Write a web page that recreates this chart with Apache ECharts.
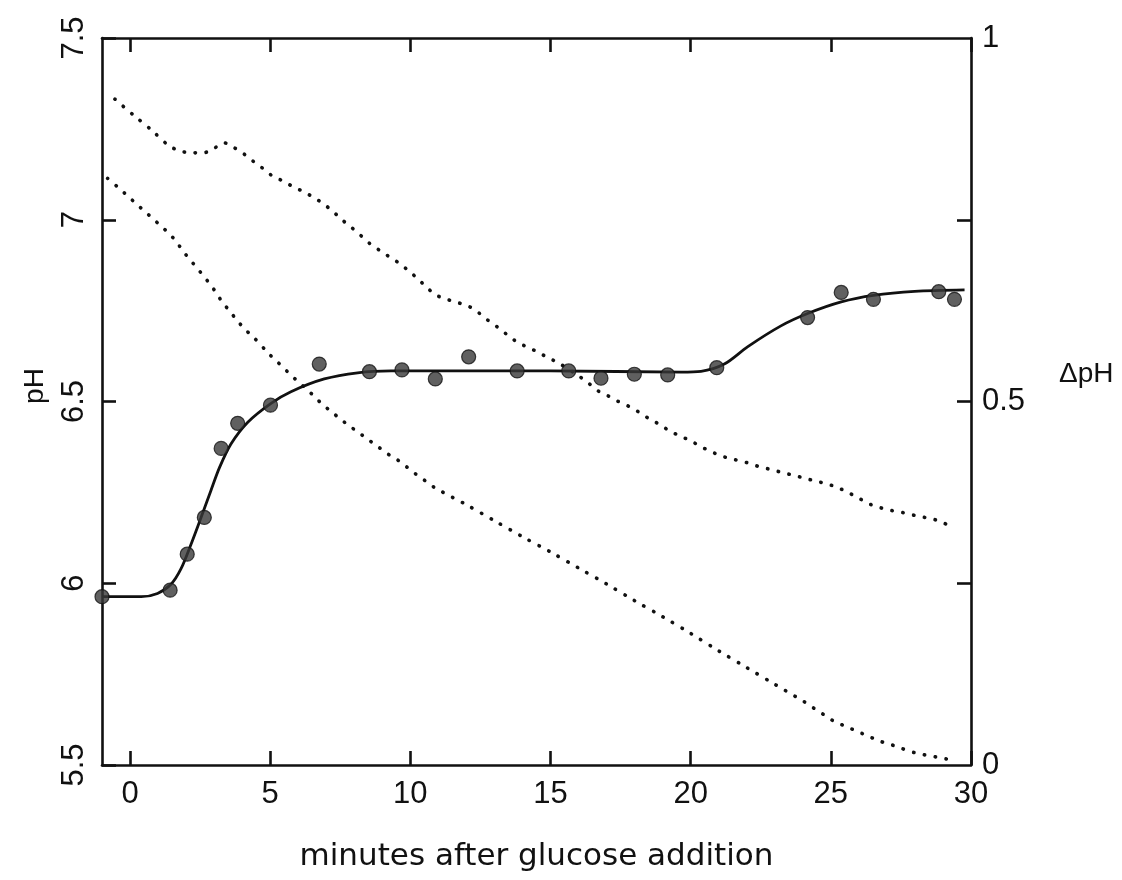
<!DOCTYPE html>
<html>
<head>
<meta charset="utf-8">
<script src="https://cdn.jsdelivr.net/npm/echarts@6/dist/echarts.min.js"></script>
<style>
  html, body { margin: 0; padding: 0; background: #fff; }
  #chart { width: 1122px; height: 880px; }
</style>
</head>
<body>
<div id="chart"></div>
<script>
// Measured pH values (filled circles)
const scatterMinutes = [-1.0, 1.43, 2.04, 2.65, 3.25, 3.84, 5.01, 6.75, 8.54, 9.70, 10.89, 12.08, 13.81, 15.65, 16.80, 17.99, 19.18, 20.93, 24.17, 25.37, 26.52, 28.85, 29.41];
const scatterPH = [5.963, 5.981, 6.080, 6.181, 6.371, 6.440, 6.490, 6.603, 6.582, 6.587, 6.562, 6.623, 6.584, 6.584, 6.564, 6.575, 6.573, 6.593, 6.731, 6.800, 6.781, 6.802, 6.781];

// Fitted pH curve (solid line)
const fitMinutes = [-1.0, 0.4, 0.98, 1.46, 1.82, 2.18, 2.53, 2.89, 3.19, 3.60, 4.20, 5.03, 5.74, 6.93, 8.12, 9.31, 15.0, 19.66, 20.37, 21.20, 22.04, 23.22, 24.17, 25.37, 26.52, 27.99, 29.77];
const fitPH = [5.963, 5.963, 5.972, 5.997, 6.040, 6.108, 6.180, 6.256, 6.318, 6.383, 6.443, 6.495, 6.527, 6.562, 6.579, 6.584, 6.584, 6.581, 6.583, 6.603, 6.651, 6.708, 6.742, 6.774, 6.792, 6.803, 6.807];

// Upper dotted ΔpH trace
const upperMinutes = [-0.54, 0.12, 0.75, 1.38, 1.76, 2.18, 2.61, 2.99, 3.34, 3.72, 4.08, 4.41, 4.76, 5.09, 5.47, 5.84, 6.22, 6.58, 6.93, 7.25, 7.56, 7.91, 8.24, 8.56, 8.90, 9.25, 9.61, 9.93, 10.26, 10.56, 10.89, 11.27, 11.69, 12.08, 12.44, 12.76, 13.12, 13.45, 13.80, 14.16, 14.55, 14.92, 15.29, 15.97, 16.33, 16.68, 17.04, 17.42, 17.81, 18.17, 18.53, 18.91, 19.27, 19.66, 20.04, 20.41, 20.79, 21.18, 21.58, 22.00, 22.39, 22.80, 23.20, 23.61, 24.02, 24.41, 24.83, 25.22, 25.61, 26.00, 26.38, 26.76, 27.17, 27.59, 28.02, 28.42, 28.84, 29.23];
const upperDelta = [0.916, 0.894, 0.874, 0.852, 0.845, 0.842, 0.842, 0.848, 0.856, 0.849, 0.840, 0.830, 0.820, 0.810, 0.803, 0.795, 0.788, 0.780, 0.771, 0.761, 0.750, 0.739, 0.728, 0.717, 0.708, 0.699, 0.690, 0.680, 0.669, 0.658, 0.647, 0.641, 0.636, 0.631, 0.622, 0.612, 0.602, 0.592, 0.582, 0.575, 0.568, 0.560, 0.553, 0.536, 0.526, 0.515, 0.508, 0.500, 0.493, 0.485, 0.476, 0.468, 0.459, 0.452, 0.445, 0.437, 0.430, 0.424, 0.420, 0.416, 0.411, 0.407, 0.403, 0.399, 0.395, 0.391, 0.387, 0.382, 0.375, 0.367, 0.359, 0.354, 0.350, 0.347, 0.343, 0.340, 0.336, 0.329];

// Lower dotted ΔpH trace
const lowerMinutes = [-0.80, -0.44, -0.12, 0.19, 0.51, 0.83, 1.14, 1.45, 1.72, 1.97, 2.25, 2.51, 2.78, 3.03, 3.27, 3.54, 3.79, 4.08, 4.39, 4.97, 5.27, 5.59, 5.89, 6.18, 6.52, 6.81, 7.15, 7.47, 7.80, 8.13, 8.48, 8.84, 9.19, 9.53, 9.87, 10.20, 10.53, 10.89, 12.0, 13.0, 14.0, 15.0, 16.0, 17.0, 18.0, 19.0, 20.0, 21.0, 22.0, 23.0, 24.05, 24.40, 24.76, 25.12, 25.54, 25.96, 26.32, 26.73, 27.15, 27.51, 27.98, 28.34, 28.76, 29.17];
const lowerDelta = [0.807, 0.795, 0.784, 0.773, 0.762, 0.751, 0.740, 0.729, 0.716, 0.703, 0.690, 0.678, 0.665, 0.652, 0.638, 0.625, 0.613, 0.600, 0.589, 0.565, 0.554, 0.542, 0.531, 0.521, 0.509, 0.498, 0.487, 0.477, 0.467, 0.458, 0.448, 0.438, 0.428, 0.420, 0.410, 0.400, 0.391, 0.381, 0.358, 0.336, 0.314, 0.293, 0.271, 0.249, 0.226, 0.204, 0.181, 0.157, 0.134, 0.111, 0.087, 0.078, 0.069, 0.060, 0.053, 0.046, 0.040, 0.033, 0.028, 0.023, 0.017, 0.014, 0.011, 0.008];

// Axis ticks and labels
const xTickValues = [0, 5, 10, 15, 20, 25, 30];
const phTickValues = [5.5, 6, 6.5, 7, 7.5];
const deltaTickValues = [0.25, 0.5, 0.75];
const deltaLabelValues = [0, 0.5, 1];

const zip = (xs, ys) => xs.map((x, i) => [x, ys[i]]);

const FONT = 'Liberation Sans';
const NAME_FONT = 'DejaVu Sans';
const INK = '#111';
const frameLine = { show: true, onZero: false, lineStyle: { color: INK, width: 2.6 } };
const tickStyle = { color: INK, width: 2.6 };
const dotted = { color: INK, width: 3.6, type: [0.4, 10.6], cap: 'round' };

const chart = echarts.init(document.getElementById('chart'), null, { renderer: 'canvas' });

chart.setOption({
  backgroundColor: '#fff',
  animation: false,
  grid: { left: 102, right: 151, top: 38, bottom: 115, containLabel: false },
  xAxis: [
    {
      type: 'value', position: 'bottom', min: -1, max: 30,
      name: 'minutes after glucose addition',
      nameLocation: 'middle', nameGap: 76,
      nameTextStyle: { fontFamily: NAME_FONT, fontSize: 31, color: INK },
      axisLine: frameLine,
      axisTick: { show: true, inside: true, length: 14, lineStyle: tickStyle, customValues: xTickValues },
      axisLabel: { show: true, margin: 14, fontFamily: FONT, fontSize: 31, color: INK, customValues: xTickValues },
      splitLine: { show: false }
    },
    {
      type: 'value', position: 'top', min: -1, max: 30,
      axisLine: frameLine,
      axisTick: { show: true, inside: true, length: 14, lineStyle: tickStyle, customValues: xTickValues },
      axisLabel: { show: false },
      splitLine: { show: false }
    }
  ],
  yAxis: [
    {
      type: 'value', position: 'left', min: 5.5, max: 7.5,
      axisLine: frameLine,
      axisTick: { show: true, inside: true, length: 14, lineStyle: tickStyle, customValues: phTickValues },
      axisLabel: { show: true, rotate: 90, margin: 12, fontFamily: FONT, fontSize: 31, color: INK, customValues: phTickValues },
      splitLine: { show: false }
    },
    {
      type: 'value', position: 'right', min: 0, max: 1,
      axisLine: frameLine,
      axisTick: { show: true, inside: true, length: 14, lineStyle: tickStyle, customValues: deltaTickValues },
      axisLabel: { show: true, margin: 11, fontFamily: FONT, fontSize: 31, color: INK, customValues: deltaLabelValues },
      splitLine: { show: false }
    }
  ],
  graphic: [
    {
      type: 'text', x: 35, y: 386, rotation: Math.PI / 2,
      style: { text: 'pH', fontFamily: FONT, fontSize: 28, fill: INK, align: 'center', verticalAlign: 'middle' }
    },
    {
      type: 'text', x: 1059, y: 374,
      style: { text: 'ΔpH', fontFamily: FONT, fontSize: 28, fill: INK, align: 'left', verticalAlign: 'middle' }
    }
  ],
  series: [
    {
      name: 'ΔpH upper', type: 'line', xAxisIndex: 0, yAxisIndex: 1,
      data: zip(upperMinutes, upperDelta), showSymbol: false, smooth: 0.3,
      lineStyle: dotted, z: 2
    },
    {
      name: 'ΔpH lower', type: 'line', xAxisIndex: 0, yAxisIndex: 1,
      data: zip(lowerMinutes, lowerDelta), showSymbol: false, smooth: 0.3,
      lineStyle: dotted, z: 2
    },
    {
      name: 'pH fit', type: 'line', xAxisIndex: 0, yAxisIndex: 0,
      data: zip(fitMinutes, fitPH), showSymbol: false, smooth: 0.3,
      lineStyle: { color: INK, width: 2.8 }, z: 3
    },
    {
      name: 'pH', type: 'scatter', xAxisIndex: 0, yAxisIndex: 0,
      data: zip(scatterMinutes, scatterPH), symbol: 'circle', symbolSize: 14, clip: false,
      itemStyle: { color: '#383838', borderColor: '#141414', borderWidth: 1.2 }, z: 4
    }
  ]
});
</script>
</body>
</html>
